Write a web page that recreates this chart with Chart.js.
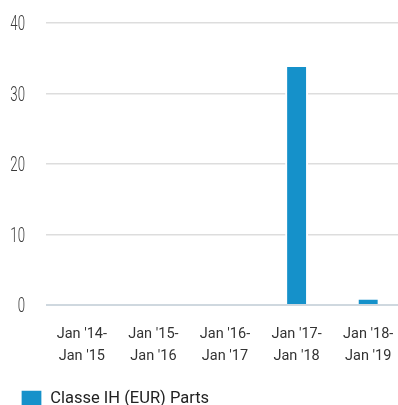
<!DOCTYPE html>
<html lang="en">
<head>
    <meta charset="UTF-8">
    <title>Classe IH (EUR) Parts</title>
    <style>
        html, body {
            margin: 0;
            padding: 0;
            background: #ffffff;
            overflow: hidden;
        }

        #chart-box {
            position: relative;
            width: 404px;
            height: 418px;
        }
    </style>
</head>
<body>
    <div id="chart-box">
        <canvas id="perf-chart"></canvas>
    </div>

    <script src="https://cdn.jsdelivr.net/npm/chart.js@4.4.0/dist/chart.umd.min.js"></script>

    <script>
        const periods = [
            ["Jan '14-", "Jan '15"],
            ["Jan '15-", "Jan '16"],
            ["Jan '16-", "Jan '17"],
            ["Jan '17-", "Jan '18"],
            ["Jan '18-", "Jan '19"]
        ];
        const seriesName = 'Classe IH (EUR) Parts';
        const returns = [null, null, null, 33.9, 0.9];
        const yTicks = [0, 10, 20, 30, 40];

        const barBlue = '#1591ca';

        // y labels in a narrow, light face: squeeze Roboto Light horizontally
        const narrowTicks = {
            id: 'narrowTicks',
            afterDraw(chart) {
                const { ctx, scales: { y } } = chart;
                ctx.save();
                ctx.font = '300 20px Roboto';
                ctx.fillStyle = '#3a3a3a';
                ctx.textAlign = 'right';
                ctx.textBaseline = 'middle';
                yTicks.forEach(v => {
                    const py = y.getPixelForValue(v) + 2;
                    ctx.save();
                    ctx.translate(25, py);
                    ctx.scale(0.66, 1);
                    ctx.fillText(String(v), 0, 0);
                    ctx.restore();
                });
                ctx.restore();
            }
        };

        const ctx = document.getElementById('perf-chart');

        const chart = new Chart(ctx, {
            type: 'bar',
            data: {
                labels: periods,
                datasets: [
                    {
                        label: seriesName,
                        data: returns,
                        backgroundColor: barBlue,
                        borderColor: '#ffffff',
                        borderWidth: { left: 2, right: 2, top: 1, bottom: 0 },
                        borderSkipped: false,
                        barPercentage: 0.32,
                        categoryPercentage: 1.0
                    }
                ]
            },
            options: {
                responsive: true,
                maintainAspectRatio: false,
                animation: false,
                layout: {
                    padding: { top: 23, left: 9, right: 0, bottom: 0 }
                },
                plugins: {
                    tooltip: { enabled: false },
                    legend: {
                        position: 'bottom',
                        align: 'start',
                        labels: {
                            boxWidth: 21,
                            boxHeight: 18,
                            padding: 12,
                            color: '#222',
                            font: { family: 'Roboto', size: 16.5 }
                        }
                    }
                },
                scales: {
                    x: {
                        grid: { display: false },
                        border: { display: false },
                        ticks: {
                            color: '#333',
                            padding: 10,
                            maxRotation: 0,
                            font: { family: 'Roboto', size: 14.5, lineHeight: 1.55 }
                        }
                    },
                    y: {
                        min: yTicks[0],
                        max: yTicks[yTicks.length - 1],
                        afterBuildTicks: (axis) => {
                            axis.ticks = yTicks.map(v => ({ value: v }));
                        },
                        afterFit: (axis) => {
                            axis.width = 37;
                        },
                        grid: {
                            color: (c) => c.tick && c.tick.value === 0 ? '#cfd8df' : '#dddddd',
                            lineWidth: (c) => c.tick && c.tick.value === 0 ? 2 : 1.5,
                            drawTicks: false
                        },
                        border: { display: false },
                        ticks: { display: false }
                    }
                }
            },
            plugins: [narrowTicks]
        });
    </script>
</body>
</html>
